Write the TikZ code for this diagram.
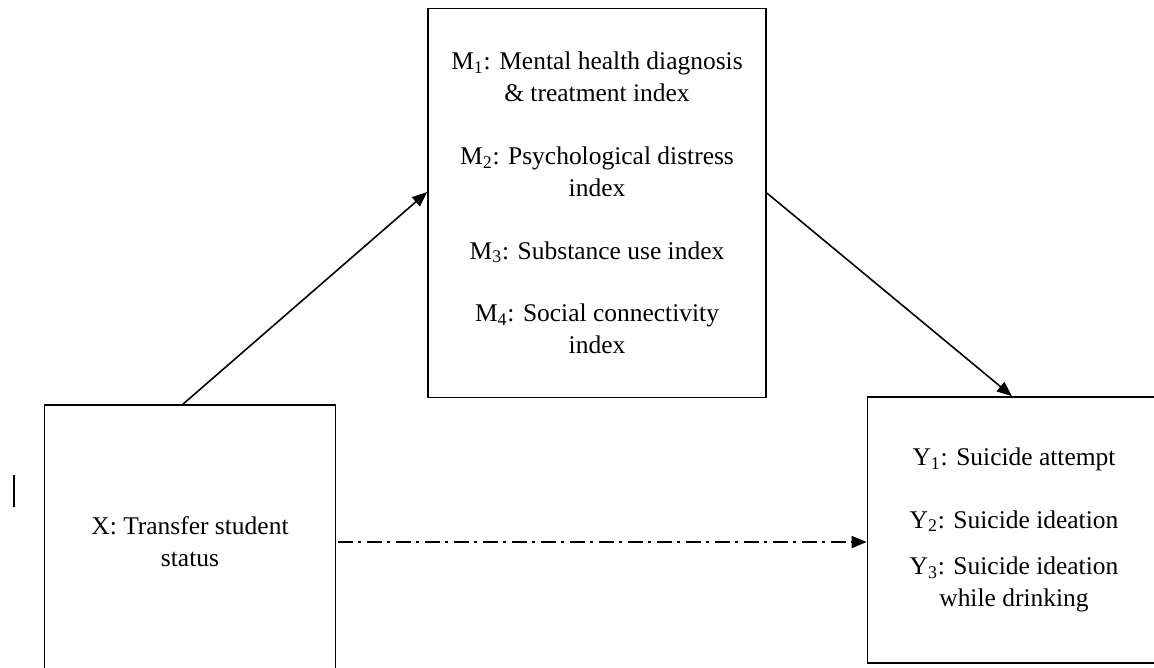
\documentclass[tikz,border=0pt]{standalone}
\usepackage{fontspec}
\setmainfont{Liberation Serif}
\usetikzlibrary{arrows.meta}
\begin{document}
\begin{tikzpicture}[
x=0.02cm, y=-0.02cm,
font=\fontsize{14.5}{18.2}\selectfont,
box/.style={draw, line width=1pt, align=center, inner sep=0pt},
link/.style={line width=0.9pt, -{Triangle[length=0.3cm,width=0.24cm]}},
direct/.style={link, dash pattern=on 0.3cm off 0.1cm on 0.06cm off 0.12cm}]
\useasboundingbox (0,0) rectangle (1154,667);
\node[box, minimum width=5.82cm, minimum height=5.48cm] (X) at (190,542)
    {X: Transfer student\\status};
\node[box, minimum width=6.76cm, minimum height=7.78cm] (M) at (597,203)
    {M\textsubscript{1}: Mental health diagnosis\\\& treatment index\\[17.5pt]
     M\textsubscript{2}: Psychological distress\\index\\[17.5pt]
     M\textsubscript{3}: Substance use index\\[17.5pt]
     M\textsubscript{4}: Social connectivity\\index};
\node[box, minimum width=5.86cm, minimum height=5.32cm] (Y) at (1014,530)
    {Y\textsubscript{1}: Suicide attempt\\[17.5pt]
     Y\textsubscript{2}: Suicide ideation\\[8.5pt]
     Y\textsubscript{3}: Suicide ideation\\while drinking};
\draw[link] ([xshift=-0.14cm]X.north) -- ([yshift=0.22cm]M.west);
\draw[link] ([yshift=0.2cm]M.east) -- ([xshift=-0.04cm]Y.north);
\draw[direct] ([xshift=0.04cm]X.east) -- (X.east -| Y.west);
% stray mark left of X
\draw[line width=1pt] (14,475) -- (14,507);
\end{tikzpicture}
\end{document}
